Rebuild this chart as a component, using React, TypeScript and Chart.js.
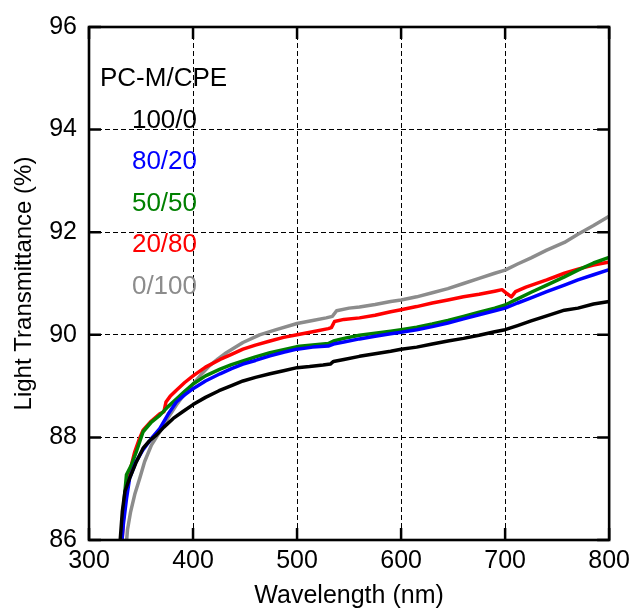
import React, { useEffect, useRef } from "react";
import { Chart, registerables } from "chart.js";

Chart.register(...registerables);

// ---- data ----
const seriesLabels = ["100/0", "80/20", "50/50", "20/80", "0/100"];
const seriesColors = ["#000000", "#0000ff", "#008000", "#ff0000", "#8c8c8c"];
const legendTitle = "PC-M/CPE";
const xTitle = "Wavelength (nm)";
const yTitle = "Light Transmittance (%)";

const wlBlack = [327, 330, 332, 334.6, 339, 345, 352, 358, 365, 372, 381, 390, 400, 412, 425, 437, 448, 460, 474, 487, 500, 512, 525, 532, 535, 545, 560, 575, 590, 600, 615, 630, 645, 660, 675, 690, 700, 712, 725, 740, 757, 770, 785, 800];
const tBlack = [85.3, 86.0, 86.55, 86.95, 87.2, 87.5, 87.79, 87.93, 88.05, 88.2, 88.37, 88.5, 88.64, 88.78, 88.91, 89.01, 89.1, 89.17, 89.24, 89.3, 89.36, 89.38, 89.41, 89.43, 89.48, 89.52, 89.58, 89.63, 89.68, 89.72, 89.76, 89.82, 89.88, 89.93, 89.99, 90.06, 90.1, 90.18, 90.27, 90.37, 90.48, 90.52, 90.6, 90.65];

const wlBlue = [330, 333, 336, 339, 345, 352, 360, 368, 376, 384, 392, 400, 412, 426, 437, 448, 460, 474, 487, 500, 515, 530, 535, 545, 560, 575, 590, 600, 615, 630, 645, 660, 675, 690, 700, 712, 725, 740, 757, 770, 785, 800];
const tBlue = [85.6, 86.3, 86.8, 87.2, 87.52, 87.76, 87.98, 88.17, 88.45, 88.69, 88.83, 88.95, 89.1, 89.24, 89.34, 89.43, 89.5, 89.59, 89.66, 89.72, 89.76, 89.78, 89.82, 89.86, 89.92, 89.97, 90.02, 90.05, 90.1, 90.16, 90.23, 90.31, 90.39, 90.47, 90.52, 90.62, 90.72, 90.84, 90.97, 91.07, 91.17, 91.27];

const wlGreen = [330, 333, 336, 341, 346, 352, 360, 368, 376, 384, 392, 400, 412, 426, 437, 448, 460, 474, 487, 500, 515, 530, 535, 545, 560, 575, 590, 600, 615, 630, 645, 660, 675, 690, 700, 712, 725, 740, 757, 770, 785, 800];
const tGreen = [85.7, 86.6, 87.27, 87.47, 87.75, 88.11, 88.3, 88.43, 88.6, 88.75, 88.9, 89.04, 89.2, 89.33, 89.42, 89.49, 89.57, 89.65, 89.71, 89.77, 89.8, 89.83, 89.88, 89.93, 89.99, 90.03, 90.07, 90.1, 90.15, 90.21, 90.28, 90.36, 90.44, 90.52, 90.58, 90.7, 90.83, 90.97, 91.13, 91.26, 91.4, 91.51];

const wlRed = [331, 333, 336, 340, 344, 348, 352, 360, 368, 372, 374, 378, 384, 392, 400, 412, 426, 437, 448, 460, 474, 487, 500, 515, 530, 533, 536, 545, 560, 575, 590, 600, 615, 630, 645, 660, 675, 690, 697, 702, 706, 710, 720, 740, 757, 770, 785, 800];
const tRed = [85.7, 86.4, 87.02, 87.4, 87.72, 87.95, 88.14, 88.32, 88.46, 88.5, 88.69, 88.8, 88.92, 89.07, 89.2, 89.37, 89.52, 89.62, 89.72, 89.8, 89.88, 89.95, 90.0, 90.06, 90.12, 90.14, 90.26, 90.3, 90.33, 90.38, 90.45, 90.49, 90.55, 90.62, 90.68, 90.74, 90.79, 90.85, 90.88, 90.8, 90.74, 90.84, 90.93, 91.07, 91.2, 91.28, 91.36, 91.42];

const wlGray = [335, 337, 340, 344, 349, 353.5, 360, 368, 376, 384, 392, 400, 408, 416, 424, 432, 448, 464, 480, 500, 515, 528, 534, 538, 550, 560, 575, 590, 600, 615, 630, 645, 660, 675, 690, 700, 712, 725, 740, 757, 770, 785, 800];
const tGray = [85.7, 86.2, 86.55, 86.89, 87.22, 87.53, 87.85, 88.11, 88.38, 88.63, 88.85, 89.04, 89.23, 89.4, 89.53, 89.65, 89.85, 90.0, 90.1, 90.22, 90.28, 90.33, 90.36, 90.47, 90.52, 90.54, 90.59, 90.65, 90.68, 90.74, 90.82, 90.9, 91.0, 91.1, 91.2, 91.26, 91.38, 91.5, 91.65, 91.8, 91.96, 92.13, 92.31];

const seriesX = [wlBlack, wlBlue, wlGreen, wlRed, wlGray];
const seriesY = [tBlack, tBlue, tGreen, tRed, tGray];

const xMin = 300, xMax = 800, xStep = 100;
const yMin = 86, yMax = 96, yStep = 2;

const FONT = "'Liberation Sans', Arial, sans-serif";

const framePlugin = {
  id: "frameTicks",
  afterDatasetsDraw(chart: any) {
    const { ctx, chartArea } = chart;
    const { left, right, top, bottom } = chartArea;
    const xs = chart.scales.x;
    const ys = chart.scales.y;
    const L = 12;
    ctx.save();
    ctx.strokeStyle = "#000";
    ctx.lineWidth = 2.5;
    ctx.setLineDash([]);
    ctx.beginPath();
    xs.ticks.forEach((t: any) => {
      const px = xs.getPixelForValue(t.value);
      ctx.moveTo(px, bottom);
      ctx.lineTo(px, bottom - L);
      ctx.moveTo(px, top);
      ctx.lineTo(px, top + L);
    });
    ys.ticks.forEach((t: any) => {
      const py = ys.getPixelForValue(t.value);
      ctx.moveTo(left, py);
      ctx.lineTo(left + L, py);
      ctx.moveTo(right, py);
      ctx.lineTo(right - L, py);
    });
    ctx.stroke();
    ctx.lineWidth = 2.6;
    ctx.strokeRect(left, top, right - left, bottom - top);

    // legend text
    ctx.font = `26px ${FONT}`;
    ctx.textBaseline = "alphabetic";
    ctx.textAlign = "left";
    ctx.fillStyle = "#000";
    ctx.fillText(legendTitle, left + 11, top + 59.3);
    ctx.textAlign = "right";
    seriesLabels.forEach((lab, i) => {
      ctx.fillStyle = seriesColors[i];
      ctx.fillText(lab, left + 108, top + 100.8 + i * 41.5);
    });
    ctx.restore();
  },
};

export default function App() {
  const ref = useRef<HTMLCanvasElement | null>(null);
  useEffect(() => {
    if (!ref.current) return;
    const datasets = seriesLabels.map((lab, i) => ({
      label: lab,
      data: seriesX[i].map((x, j) => ({ x, y: seriesY[i][j] })),
      borderColor: seriesColors[i],
      backgroundColor: seriesColors[i],
      borderWidth: 3.5,
      pointRadius: 0,
      tension: 0,
      fill: false,
      clip: 0,
      borderJoinStyle: "round" as const,
    }));
    const gridColor = (ctx: any) => {
      const v = ctx.tick ? ctx.tick.value : null;
      const s = ctx.scale;
      if (v === s.min || v === s.max) return "rgba(0,0,0,0)";
      return "#000";
    };
    const chart = new Chart(ref.current, {
      type: "line",
      data: { datasets },
      plugins: [framePlugin],
      options: {
        animation: false,
        responsive: false,
        maintainAspectRatio: false,
        layout: { padding: { top: 20, right: 24, left: 0, bottom: 0 } },
        plugins: { legend: { display: false }, tooltip: { enabled: false } },
        scales: {
          x: {
            type: "linear",
            min: xMin,
            max: xMax,
            ticks: {
              stepSize: xStep,
              color: "#000",
              font: { family: FONT, size: 25 },
              padding: 6,
              maxRotation: 0,
            },
            grid: { color: gridColor, lineWidth: 1, drawTicks: false },
            border: { display: false, dash: [5, 3] },
            title: {
              display: true,
              text: xTitle,
              color: "#000",
              font: { family: FONT, size: 25 },
              padding: { top: 0, bottom: 1 },
            },
            afterFit: (s: any) => {
              s.height = 72;
            },
          },
          y: {
            type: "linear",
            min: yMin,
            max: yMax,
            ticks: {
              stepSize: yStep,
              color: "#000",
              font: { family: FONT, size: 25 },
              padding: 12,
            },
            grid: { color: gridColor, lineWidth: 1, drawTicks: false },
            border: { display: false, dash: [5, 3] },
            title: {
              display: true,
              text: yTitle,
              color: "#000",
              font: { family: FONT, size: 24 },
              padding: { top: 10, bottom: 0 },
            },
            afterFit: (s: any) => {
              s.width = 89;
            },
          },
        },
      },
    });
    return () => chart.destroy();
  }, []);
  return (
    <div style={{ position: "absolute", left: 0, top: 0, width: 636, height: 612, background: "#fff" }}>
      <canvas ref={ref} width={636} height={612} style={{ width: 636, height: 612 }} />
    </div>
  );
}
